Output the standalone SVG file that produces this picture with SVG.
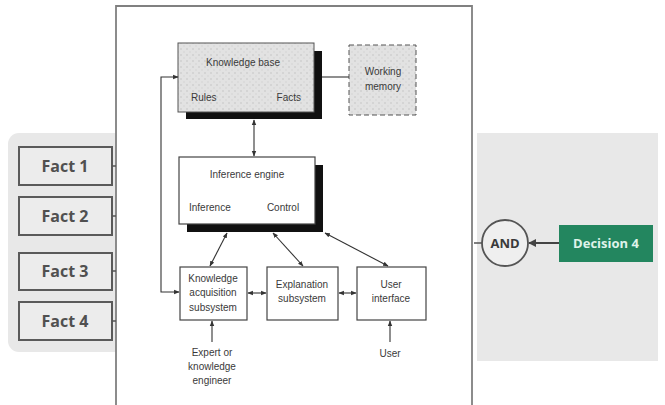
<svg xmlns="http://www.w3.org/2000/svg" width="665" height="405" viewBox="0 0 665 405">
<defs>
<marker id="ah" viewBox="0 0 10 10" refX="9" refY="5" markerWidth="5" markerHeight="5" orient="auto-start-reverse"><path d="M0,1 L10,5 L0,9 z" fill="#333"/></marker>
<marker id="ahg" viewBox="0 0 10 10" refX="9" refY="5" markerWidth="4" markerHeight="4" orient="auto"><path d="M0,0 L10,5 L0,10 z" fill="#444"/></marker>
<pattern id="stip" width="6" height="6" patternUnits="userSpaceOnUse"><rect width="6" height="6" fill="#e2e2e2"/><circle cx="1" cy="1" r="0.8" fill="#c4c4c4"/><circle cx="4" cy="4" r="0.7" fill="#cfcfcf"/></pattern>
</defs>
<style>
.fact rect{fill:#ececec;stroke:#5a5a5a;stroke-width:2}
.fact text{font-family:"Open Sans","Noto Sans",sans-serif;font-weight:bold;font-size:16px;fill:#505050;text-anchor:middle}
.pt{font-family:"Liberation Sans",Arial,sans-serif;font-size:10px;fill:#3a3a3a;text-anchor:middle}
.pt.s{text-anchor:start}
.pt.e{text-anchor:end}
.box{fill:#fff;stroke:#444;stroke-width:1.2}
.shadow{fill:#111}
.ln{stroke:#333;stroke-width:1.1;fill:none}
</style>
<rect width="665" height="405" fill="#fff"/>
<rect x="8" y="133" width="120" height="219" rx="11" fill="#e8e8e8"/>
<rect x="477" y="133" width="181" height="228" fill="#e8e8e8"/>

<g id="fact1" class="fact"><rect x="19" y="147" width="93" height="38"/><text x="65" y="172">Fact 1</text></g>
<g id="fact2" class="fact"><rect x="19" y="197" width="93" height="38"/><text x="65" y="222">Fact 2</text></g>
<g id="fact3" class="fact"><rect x="19" y="253" width="93" height="37"/><text x="65" y="277">Fact 3</text></g>
<g id="fact4" class="fact"><rect x="19" y="302" width="93" height="38"/><text x="65" y="327">Fact 4</text></g>

<g id="paper">
<rect x="116" y="5" width="358" height="410" fill="#fff"/>
<path d="M116,410 V6 H472 V410" fill="none" stroke="#808080" stroke-width="1.8"/>
</g>

<g id="and">
<circle cx="505" cy="243" r="23" fill="#efefef" stroke="#555" stroke-width="1.8"/>
<text x="505" y="248" font-family="'Open Sans','Noto Sans',sans-serif" font-weight="bold" font-size="13" fill="#3a3a3a" text-anchor="middle">AND</text>
</g>
<g id="decision4">
<rect x="559" y="225" width="94" height="37" fill="#23865f"/>
<text x="606" y="248" font-family="'Open Sans','Noto Sans',sans-serif" font-weight="bold" font-size="13" fill="#dff3ea" text-anchor="middle">Decision 4</text>
</g>

<g id="kb">
<rect class="shadow" x="186" y="51" width="136" height="68"/>
<rect x="178" y="43" width="136" height="69" fill="url(#stip)" stroke="#555" stroke-width="1"/>
<text class="pt" x="243" y="66">Knowledge base</text>
<text class="pt s" x="191" y="101">Rules</text>
<text class="pt e" x="301" y="101">Facts</text>
</g>
<g id="wm">
<rect x="349" y="45" width="67" height="70" fill="url(#stip)" stroke="#555" stroke-width="1" stroke-dasharray="5,3"/>
<text class="pt" x="383" y="75">Working</text>
<text class="pt" x="383" y="90">memory</text>
</g>
<g id="ie">
<rect class="shadow" x="187" y="165" width="136" height="67"/>
<rect class="box" x="179" y="157" width="136" height="67"/>
<text class="pt" x="247" y="178">Inference engine</text>
<text class="pt s" x="189" y="211">Inference</text>
<text class="pt" x="283" y="211">Control</text>
</g>
<g id="kas">
<rect class="box" x="180" y="267" width="67" height="53"/>
<text class="pt" x="213" y="282">Knowledge</text>
<text class="pt" x="213" y="296">acquisition</text>
<text class="pt" x="213" y="311">subsystem</text>
</g>
<g id="es">
<rect class="box" x="267" y="267" width="71" height="53"/>
<text class="pt" x="302" y="288">Explanation</text>
<text class="pt" x="302" y="302">subsystem</text>
</g>
<g id="ui">
<rect class="box" x="357" y="267" width="69" height="53"/>
<text class="pt" x="391" y="288">User</text>
<text class="pt" x="391" y="302">interface</text>
</g>
<g id="expert">
<text class="pt" x="212" y="356">Expert or</text>
<text class="pt" x="212" y="370">knowledge</text>
<text class="pt" x="212" y="384">engineer</text>
</g>
<g id="user"><text class="pt" x="390" y="357">User</text></g>

<g id="connectors">
<line x1="112" y1="166" x2="116" y2="166" stroke="#555" stroke-width="1.5"/>
<line x1="112" y1="216" x2="116" y2="216" stroke="#555" stroke-width="1.5"/>
<line x1="112" y1="271" x2="116" y2="271" stroke="#555" stroke-width="1.5"/>
<line x1="112" y1="321" x2="116" y2="321" stroke="#555" stroke-width="1.5"/>
<path d="M474,243 H482" stroke="#555" stroke-width="1.5" fill="none"/>
<line x1="559" y1="243" x2="529" y2="243" stroke="#444" stroke-width="2" marker-end="url(#ahg)"/>
<line class="ln" x1="322" y1="77" x2="349" y2="77"/>
<line class="ln" x1="254" y1="120" x2="254" y2="156" marker-start="url(#ah)" marker-end="url(#ah)"/>
<path class="ln" d="M178,77 H161 V292 H179" marker-start="url(#ah)" marker-end="url(#ah)"/>
<line class="ln" x1="227" y1="233" x2="210" y2="266" marker-start="url(#ah)" marker-end="url(#ah)"/>
<line class="ln" x1="273" y1="233" x2="303" y2="266" marker-start="url(#ah)" marker-end="url(#ah)"/>
<line class="ln" x1="325" y1="233" x2="388" y2="266" marker-start="url(#ah)" marker-end="url(#ah)"/>
<line class="ln" x1="248" y1="293" x2="266" y2="293" marker-start="url(#ah)" marker-end="url(#ah)"/>
<line class="ln" x1="339" y1="293" x2="356" y2="293" marker-start="url(#ah)" marker-end="url(#ah)"/>
<line class="ln" x1="212" y1="342" x2="212" y2="321" marker-end="url(#ah)"/>
<line class="ln" x1="390" y1="342" x2="390" y2="321" marker-end="url(#ah)"/>
</g>
</svg>
